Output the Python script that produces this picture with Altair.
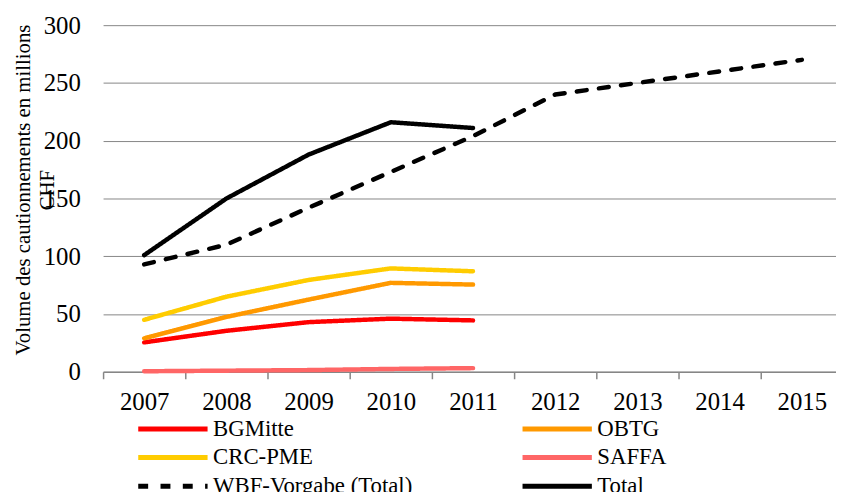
import altair as alt
import pandas as pd

years = ["2007", "2008", "2009", "2010", "2011", "2012", "2013", "2014", "2015"]
bgmitte = [25.5, 35.5, 43, 46, 44.5]
obtg = [29, 47.5, 62.5, 77, 75.5]
crc_pme = [45, 65, 79.5, 89.5, 87]
saffa = [0.5, 1, 1.5, 2.5, 3.2]
wbf = [93, 110, 142, 173, 204, 240, 250, 260, 270]
total = [101, 150, 188, 216, 211]

series_names = ["BGMitte", "OBTG", "CRC-PME", "SAFFA", "WBF-Vorgabe (Total)", "Total"]
series_values = [bgmitte, obtg, crc_pme, saffa, wbf, total]
colors = ["#FF0000", "#FF9900", "#FFCC00", "#FF6666", "#000000", "#000000"]
dashes = [[1, 0], [1, 0], [1, 0], [1, 0], [10, 12.5], [1, 0]]

rows = []
for name, vals in zip(series_names, series_values):
    for y, v in zip(years, vals):
        rows.append({"year": y, "value": v, "series": name})
df = pd.DataFrame(rows)

FONT = "Liberation Serif"

leg = dict(title=None, orient="none", legendX=55, legendY=392, columns=2, direction="horizontal",
           columnPadding=100, rowPadding=1, symbolType="M-2.6923,0H2.6923", symbolSize=676,
           symbolStrokeWidth=5, labelFontSize=23, labelOffset=25, labelColor="#000000",
           labelFont=FONT, padding=0, labelLimit=400)

chart = alt.Chart(df).mark_line(strokeWidth=4.5, strokeCap="round", strokeJoin="round").encode(
    x=alt.X("year:O", scale=alt.Scale(type="band", domain=years, range=[0, 747], paddingInner=0, paddingOuter=0),
            bandPosition=0.5,
            axis=alt.Axis(title=None, labelAngle=0, tickBand="extent", labelFontSize=25, labelPadding=11,
                          labelFont=FONT, tickSize=7, tickColor="#868686", domainColor="#868686", domainWidth=1.5,
                          tickWidth=1.5, labelColor="#000000", grid=False)),
    y=alt.Y("value:Q", scale=alt.Scale(domain=[0, 300], nice=False),
            axis=alt.Axis(values=[0, 50, 100, 150, 200, 250, 300], title=["Volume des cautionnements en millions", "CHF"],
                          titleFont=FONT, titleFontSize=21, titleFontWeight="normal", titleAngle=270, titleX=-91,
                          titleY=166, titleBaseline="top", titleAlign="center", titleLineHeight=24,
                          titleColor="#000000", labelFont=FONT,
                          labelFontSize=25, labelPadding=23, ticks=False, domain=False, labelColor="#000000",
                          grid=True, gridColor="#868686", gridWidth=1)),
    color=alt.Color("series:N", scale=alt.Scale(domain=series_names, range=colors), sort=series_names,
                    legend=alt.Legend(**leg)),
    strokeDash=alt.StrokeDash("series:N", scale=alt.Scale(domain=series_names, range=dashes), sort=series_names,
                              legend=alt.Legend(**leg)),
    order=alt.Order("series:N"),
).properties(
    width=740, height=350,
    autosize=alt.AutoSizeParams(type="none"),
    padding={"left": 96, "top": 15, "right": 0, "bottom": 119},
).configure(font=FONT).configure_view(stroke=None)

chart.save("out.html", embed_options={"renderer": "svg", "actions": False})
